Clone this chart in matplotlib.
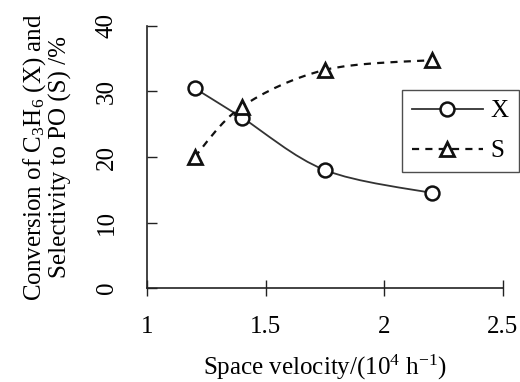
import numpy as np
import matplotlib
matplotlib.use("Agg")
import matplotlib.pyplot as plt
from matplotlib.path import Path
from matplotlib.patches import PathPatch
from matplotlib.lines import Line2D

# datos
space_velocity = [1.2, 1.4, 1.75, 2.2]
conversion_x = [30.5, 26.0, 18.0, 14.5]
selectivity_s = [20.0, 27.7, 33.3, 34.8]

x_ticks = [1, 1.5, 2, 2.5]
y_ticks = [0, 10, 20, 30, 40]

plt.rcParams['font.family'] = ['Liberation Serif', 'DejaVu Serif']
plt.rcParams['mathtext.fontset'] = 'custom'
plt.rcParams['mathtext.rm'] = 'Liberation Serif'
plt.rcParams['mathtext.it'] = 'Liberation Serif:italic'

FS = 18


def smoothPath(xs, ys, t=0.5):
  """ curva suave (tipo Excel) que pasa por los puntos """
  pts = np.column_stack([xs, ys])
  verts = [pts[0]]
  codes = [Path.MOVETO]
  n = len(pts)
  for i in range(n - 1):
    p0 = pts[i - 1] if i > 0 else pts[i]
    p1 = pts[i]
    p2 = pts[i + 1]
    p3 = pts[i + 2] if i + 2 < n else pts[i + 1]
    c1 = p1 + (p2 - p0) * t / 3
    c2 = p2 - (p3 - p1) * t / 3
    verts += [c1, c2, p2]
    codes += [Path.CURVE4] * 3
  return Path(verts, codes)


fig = plt.figure(figsize=(5.2, 3.82), dpi=100)
ax = fig.add_axes([0.283, 0.246, 0.684, 0.686])

ax.set_xlim(1, 2.5)
ax.set_ylim(0, 40)

# curvas suaves
px = PathPatch(smoothPath(space_velocity, conversion_x), fill=False,
               edgecolor='#333333', lw=1.3, zorder=2)
ps = PathPatch(smoothPath(space_velocity, selectivity_s), fill=False,
               edgecolor='#111111', lw=1.6, linestyle=(0, (3.2, 2.8)), zorder=2)
ax.add_patch(px)
ax.add_patch(ps)

ax.plot(space_velocity, conversion_x, 'o', ms=10, mfc='white', mec='#111111',
        mew=1.8, zorder=3, clip_on=False)
ax.plot(space_velocity, selectivity_s, '^', ms=10, mfc='white', mec='#111111',
        mew=2.0, zorder=3, clip_on=False)

h1 = Line2D([], [], color='#333333', lw=1.3, marker='o', ms=10, mfc='white',
            mec='#111111', mew=1.8)
h2 = Line2D([], [], color='#111111', lw=1.6, linestyle=(0, (3.2, 2.8)),
            marker='^', ms=10, mfc='white', mec='#111111', mew=2.0)
leg = ax.legend([h1, h2], ['X', 'S'], loc='upper left',
                bbox_to_anchor=(0.716, 0.756), fontsize=FS, frameon=True,
                fancybox=False, edgecolor='#222222', handlelength=2.85,
                handletextpad=0.3, borderpad=0.4, labelspacing=0.7,
                borderaxespad=0)
leg.get_frame().set_linewidth(1.0)

# ejes
ax.spines['top'].set_visible(False)
ax.spines['right'].set_visible(False)
for s in ['left', 'bottom']:
  ax.spines[s].set_linewidth(1.2)
  ax.spines[s].set_color('#222222')

ax.set_xticks(x_ticks)
ax.set_xticklabels(['1', '1.5', '2', '2.5'])
ax.set_yticks(y_ticks)
ax.tick_params(axis='x', direction='inout', length=12, width=1.0,
               labelsize=FS, pad=14, color='#222222')
ax.tick_params(axis='y', direction='in', length=7, width=1.0,
               labelsize=FS, pad=21, labelrotation=90, color='#222222')
for lab in ax.get_yticklabels():
  lab.set_va('center')

ax.set_xlabel('Space velocity/(10$^{4}$ h$^{-1}$)', fontsize=FS, labelpad=11)
ax.set_ylabel('Conversion of C$_{3}$H$_{6}$ (X) and\nSelectivity to PO (S) /%',
              fontsize=FS, labelpad=17, linespacing=1.05)

fig.savefig('out.png', dpi=100)
